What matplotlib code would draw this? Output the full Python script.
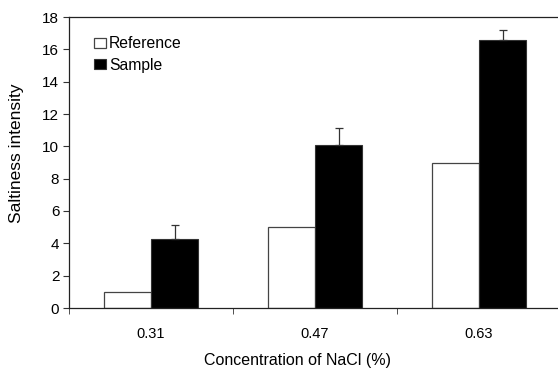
import matplotlib
matplotlib.use("Agg")
import matplotlib.pyplot as plt
import numpy as np

categories = ["0.31", "0.47", "0.63"]
reference = [1.0, 5.0, 9.0]
sample = [4.25, 10.08, 16.6]
sample_err = [0.86, 1.07, 0.62]

plt.rcParams['font.family'] = ['Liberation Sans', 'DejaVu Sans']

fig = plt.figure(figsize=(5.58, 3.69), dpi=100)
ax = fig.add_axes([69/558, 1-308/369, 492/558, 291/369])

x = np.arange(len(categories))
w = 0.287
ax.bar(x - w/2, reference, w, color="white", edgecolor="#444444", linewidth=0.9, label="Reference")
ax.bar(x + w/2, sample, w, color="black", edgecolor="#333333", linewidth=0.8, label="Sample",
       yerr=[np.zeros(len(sample)), sample_err],
       error_kw=dict(ecolor="#333333", elinewidth=0.9, capsize=3, capthick=0.9))

ax.set_xlim(-0.5, len(categories) - 0.5)
ax.set_ylim(0, 18)
ax.set_yticks(np.arange(0, 19, 2))
ax.set_xticks(x)
ax.set_xticklabels(categories, fontsize=10.5)
ax.set_xticks(np.arange(-0.5, len(categories), 1), minor=True)
ax.tick_params(axis='x', which='major', length=0, pad=14)
ax.tick_params(axis='x', which='minor', length=4, direction='out', color="#333333")
ax.tick_params(axis='y', labelsize=11, length=4, direction='out', color="#333333", pad=3)
for s in ["left", "bottom", "top"]:
    ax.spines[s].set_color("#222222")
    ax.spines[s].set_linewidth(0.9)
ax.spines["right"].set_visible(False)

fig.text(297.5/558, 1-360/369, "Concentration of NaCl (%)", fontsize=11.5, ha="center", va="center")
fig.text(17/558, 1-153/369, "Saltiness intensity", fontsize=12.5, ha="center", va="center", rotation=90)

ax.legend(loc="upper left", bbox_to_anchor=(0.038, 0.955), frameon=False, fontsize=11.3,
          handlelength=0.76, handleheight=0.64, handletextpad=0.2, labelspacing=0.4, borderaxespad=0)

fig.savefig("out.png", dpi=100)
